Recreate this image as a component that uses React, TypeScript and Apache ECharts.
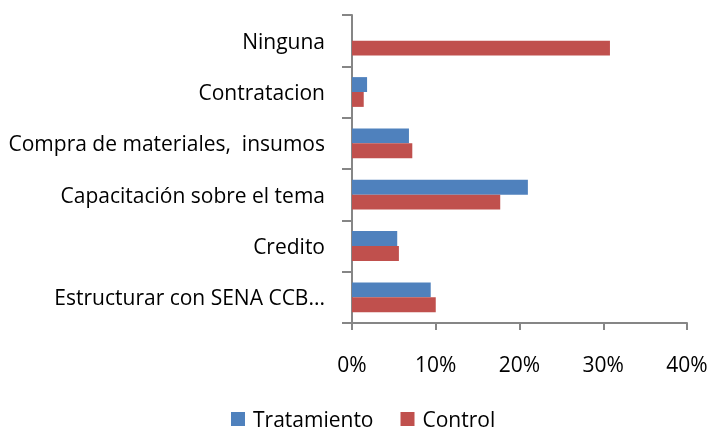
import React, { useEffect, useRef } from "react";
import * as echarts from "echarts";

const categories = [
  "Ninguna",
  "Contratacion",
  "Compra de materiales,  insumos",
  "Capacitación sobre el tema",
  "Credito",
  "Estructurar con SENA CCB...",
];
const tratamiento = [0, 1.8, 6.8, 21.0, 5.4, 9.4];
const control = [30.8, 1.4, 7.2, 17.7, 5.6, 10.0];
const xTicks = [0, 10, 20, 30, 40];

const FONT = "'Open Sans', sans-serif";
const AXIS = "#868686";

export default function App() {
  const ref = useRef<HTMLDivElement>(null);
  useEffect(() => {
    if (!ref.current) return;
    const chart = echarts.init(ref.current, null, { renderer: "svg" });
    chart.setOption({
      animation: false,
      textStyle: { fontFamily: FONT },
      legend: {
        bottom: 5,
        left: 231,
        padding: 0,
        itemWidth: 14,
        itemHeight: 14,
        itemGap: 27,
        icon: "rect",
        textStyle: {
          fontSize: 21,
          lineHeight: 22,
          color: "#000",
          fontFamily: FONT,
          padding: [0, 0, 0, 3],
        },
        data: ["Tratamiento", "Control"],
      },
      grid: { left: 352, right: 26, top: 15, bottom: 112, containLabel: false },
      xAxis: {
        type: "value",
        min: xTicks[0],
        max: xTicks[xTicks.length - 1],
        interval: 10,
        axisLine: { show: true, lineStyle: { color: AXIS, width: 2 } },
        axisTick: { show: true, length: 7, lineStyle: { color: AXIS, width: 2 } },
        splitLine: { show: false },
        axisLabel: {
          formatter: (v: number) => `${v}%`,
          fontSize: 21,
          color: "#000",
          fontFamily: FONT,
          margin: 30,
        },
      },
      yAxis: {
        type: "category",
        data: categories,
        inverse: true,
        axisLine: { show: true, lineStyle: { color: AXIS, width: 2 } },
        axisTick: { show: true, length: 10, lineStyle: { color: AXIS, width: 2 } },
        axisLabel: { fontSize: 21, color: "#000", fontFamily: FONT, margin: 27 },
      },
      series: [
        {
          name: "Tratamiento",
          type: "bar",
          data: tratamiento,
          itemStyle: { color: "#4F81BD" },
          barGap: "0%",
          barCategoryGap: "42%",
        },
        {
          name: "Control",
          type: "bar",
          data: control,
          itemStyle: { color: "#C0504D" },
          barGap: "0%",
          barCategoryGap: "42%",
        },
      ],
    });
    return () => chart.dispose();
  }, []);
  return (
    <div
      ref={ref}
      style={{ position: "fixed", left: 0, top: 0, width: 713, height: 435 }}
    />
  );
}
